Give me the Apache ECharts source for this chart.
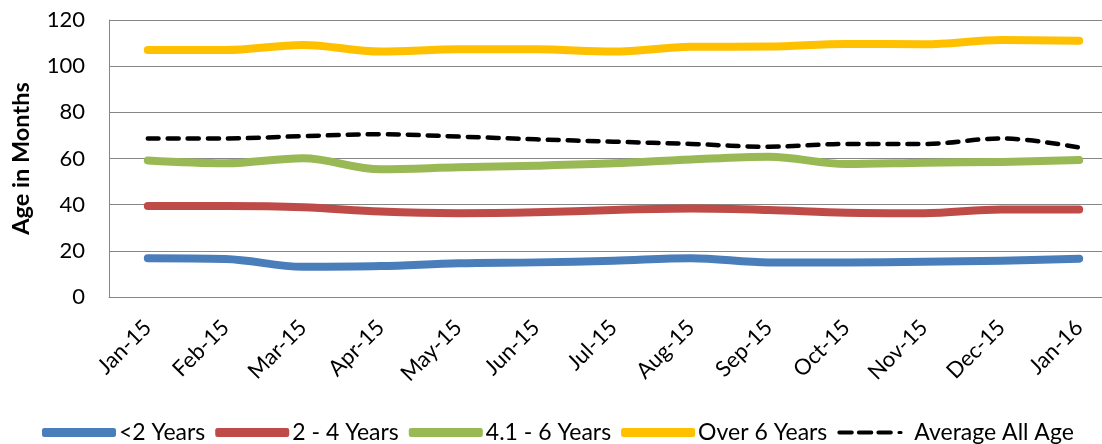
<!DOCTYPE html>
<html>
<head>
<meta charset="utf-8">
<script src="https://cdn.jsdelivr.net/npm/echarts@6/dist/echarts.min.js"></script>
<style>
html,body{margin:0;padding:0;background:#fff;}
#chart{width:1102px;height:444px;}
</style>
</head>
<body>
<div id="chart"></div>
<script>
const categories = ['Jan-15','Feb-15','Mar-15','Apr-15','May-15','Jun-15','Jul-15','Aug-15','Sep-15','Oct-15','Nov-15','Dec-15','Jan-16'];
const under2 = [16.8,16.5,13.1,13.4,14.6,15.0,15.7,16.8,15.0,15.0,15.3,15.7,16.6];
const y2to4 = [39.4,39.4,38.9,37.0,36.3,36.7,37.7,38.3,37.7,36.5,36.3,37.9,37.9];
const y4to6 = [59.1,57.9,60.1,55.3,56.2,56.9,57.9,59.6,60.8,57.6,58.2,58.5,59.3];
const over6 = [107.0,107.0,109.2,106.3,107.3,107.3,106.3,108.4,108.5,109.6,109.5,111.3,111.0];
const average = [68.7,68.7,69.7,70.5,69.5,68.3,67.3,66.3,65.1,66.3,66.3,68.7,64.8];
const yTicks = [0,20,40,60,80,100,120];

const FONT = 'Lato';
const chart = echarts.init(document.getElementById('chart'));
function lineSeries(name, data, color, width, type) {
  return {
    name: name, type: 'line', data: data, smooth: 0.35,
    symbol: 'none', showSymbol: false,
    lineStyle: {color: color, width: width, type: type || 'solid', cap: 'round', join: 'round'},
    itemStyle: {color: color},
    emphasis: {disabled: true}
  };
}
const dashIcon = 'path://M2,2 L14,2 A2,2 0 0 1 14,6 L2,6 A2,2 0 0 1 2,2 Z M21,2 L33,2 A2,2 0 0 1 33,6 L21,6 A2,2 0 0 1 21,2 Z M40,2 L52,2 A2,2 0 0 1 52,6 L40,6 A2,2 0 0 1 40,2 Z M60,2.5 L62,2.5 A1.5,1.5 0 0 1 62,5.5 L60,5.5 A1.5,1.5 0 0 1 60,2.5 Z M0,0 L0,0 M72,8 L72,8';
chart.setOption({
  animation: false,
  textStyle: {fontFamily: FONT},
  grid: {left: 109, right: -16, top: 20, bottom: 147, containLabel: false, outerBoundsMode: 'none'},
  xAxis: {
    type: 'category', data: categories, boundaryGap: true,
    axisLine: {show: true, lineStyle: {color: '#868686', width: 1}},
    axisTick: {show: false},
    axisLabel: {rotate: 45, fontSize: 22, color: '#000', fontFamily: FONT, margin: 27}
  },
  yAxis: {
    type: 'value', min: yTicks[0], max: yTicks[yTicks.length-1], interval: 20,
    name: 'Age in Months', nameLocation: 'middle', nameRotate: 90, nameGap: 76,
    nameTextStyle: {fontSize: 23.5, fontWeight: 'bold', color: '#000', fontFamily: FONT},
    axisLine: {show: true, lineStyle: {color: '#868686', width: 1}},
    axisTick: {show: false},
    axisLabel: {fontSize: 22, color: '#000', fontFamily: FONT, margin: 24},
    splitLine: {show: true, lineStyle: {color: '#868686', width: 1}}
  },
  legend: {
    top: 416, left: 37, itemWidth: 74, itemHeight: 9, itemGap: 10,
    textStyle: {fontSize: 23, color: '#000', fontFamily: FONT, padding: [0, 0, 0, -2]},
    itemStyle: {borderWidth: 0},
    lineStyle: {width: 0},
    data: [
      {name: '<2 Years', icon: 'roundRect'},
      {name: '2 - 4 Years', icon: 'roundRect'},
      {name: '4.1 - 6 Years', icon: 'roundRect'},
      {name: 'Over 6 Years', icon: 'roundRect'},
      {name: 'Average All Age', icon: dashIcon}
    ]
  },
  series: [
    lineSeries('<2 Years', under2, '#4A7EBB', 8),
    lineSeries('2 - 4 Years', y2to4, '#BE4B48', 8),
    lineSeries('4.1 - 6 Years', y4to6, '#98B954', 8),
    lineSeries('Over 6 Years', over6, '#FFC000', 8),
    lineSeries('Average All Age', average, '#000000', 4.5, [11, 9])
  ]
});
</script>
</body>
</html>
